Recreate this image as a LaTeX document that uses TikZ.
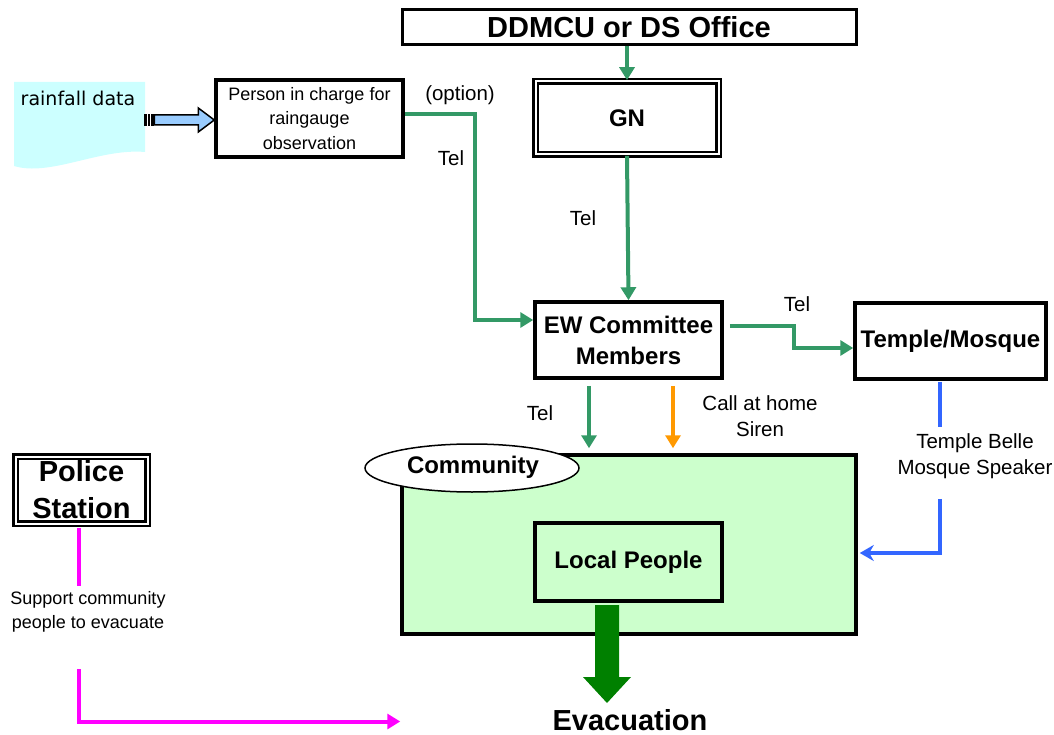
\documentclass[tikz,border=0pt]{standalone}
\usepackage{fontspec}
\setmainfont{Liberation Sans}
\newfontfamily\gothicfont{DejaVu Sans}
\usetikzlibrary{arrows.meta,shapes.geometric,calc}
\definecolor{telgreen}{HTML}{339966}
\definecolor{sirenorange}{HTML}{FF9900}
\definecolor{bellblue}{HTML}{3366FF}
\definecolor{policemagenta}{HTML}{FF00FF}
\definecolor{communityfill}{HTML}{CCFFCC}
\definecolor{evacgreen}{HTML}{008000}
\definecolor{rainfill}{HTML}{CCFFFF}
\definecolor{feedblue}{HTML}{99CCFF}
\begin{document}
\begin{tikzpicture}[x=1pt,y=-1pt,
  boldbox/.style={draw,line width=3.5pt,inner sep=0pt,align=center,
    font=\fontsize{24}{31}\selectfont\bfseries},
  dblbox/.style={draw,line width=2.7pt,double=white,double distance=2pt,
    inner sep=0pt,align=center},
  note/.style={font=\fontsize{20.5}{26}\selectfont,align=center,inner sep=0pt},
  smallnote/.style={font=\fontsize{18}{24}\selectfont,align=center,inner sep=0pt},
  flow/.style={line width=4pt,-{Triangle[width=15pt,length=13pt]}},
  telline/.style={flow,draw=telgreen,color=telgreen},
  sirenline/.style={flow,draw=sirenorange,color=sirenorange},
  bellline/.style={line width=3.5pt,draw=bellblue},
  policeline/.style={line width=4pt,draw=policemagenta}]
\useasboundingbox (0,0) rectangle (1054,735);

% rainfall data sheet with a wavy lower edge
\fill[rainfill] (14,82) -- (145,82) -- (145,152)
  .. controls (100,148) and (50,177) .. (14,166) -- cycle;
\node[font=\gothicfont\fontsize{19}{23}\selectfont,inner sep=0pt] (rain) at (78,98) {rainfall data};

% boxes
\node[boldbox,line width=3pt,minimum width=454pt,minimum height=35pt,
  font=\fontsize{29}{35}\selectfont\bfseries] (ddmcu) at (629,27.5) {DDMCU or DS Office};
\node[dblbox,minimum width=183pt,minimum height=73pt,
  font=\fontsize{24}{30}\selectfont\bfseries] (gn) at (627,118) {GN};
\node[draw,line width=3.5pt,inner sep=0pt,align=center,minimum width=187pt,minimum height=77pt,
  font=\fontsize{18}{24.5}\selectfont] (person) at (309.5,118.5) {Person in charge for\\raingauge\\observation};
\node[boldbox,minimum width=187pt,minimum height=76pt] (ew) at (628.5,340) {EW Committee\\Members};
\node[boldbox,minimum width=191pt,minimum height=76pt] (temple) at (950.5,341) {Temple/Mosque};
\node[draw,line width=3.5pt,fill=communityfill,minimum width=454pt,minimum height=179pt,
  inner sep=0pt] (community) at (629,544.5) {};
\node[boldbox,fill=communityfill,line width=4pt,minimum width=187pt,minimum height=78pt]
  (local) at (628.5,562) {Local People};
\node[ellipse,draw,line width=1.5pt,fill=white,minimum width=214pt,minimum height=48pt,
  inner sep=0pt] (commlabel) at (472,468) {};
\node[font=\fontsize{24}{30}\selectfont\bfseries,inner sep=0pt] (commtext) at (473,467) {Community};
\node[dblbox,minimum width=132pt,minimum height=67pt,
  font=\fontsize{29}{37}\selectfont\bfseries] (police) at (81.5,490) {Police\\Station};
\node[font=\fontsize{29}{35}\selectfont\bfseries,inner sep=0pt] (evac) at (630,720) {Evacuation};

% labels
\node[note] (optlabel) at (460,95) {(option)};
\node[note] (tel1) at (451,158) {Tel};
\node[note] (tel2) at (583,218) {Tel};
\node[note] (tel3) at (797,304) {Tel};
\node[note] (tel4) at (540,413) {Tel};
\node[note] (callnote) at (760,416) {Call at home\\Siren};
\node[note] (bellnote) at (975,456) {Temple Belle\\Mosque Speaker};
\node[smallnote] (supportnote) at (88,612) {Support community\\people to evacuate};

% block arrow feeding the rainfall data to the observer
\begin{scope}[shift={($(person.west)+(0,1.5)$)}]
  \filldraw[fill=feedblue,draw=black,line width=1.5pt]
    (-60,-5) -- (-16,-5) -- (-16,-12) -- (0,0) -- (-16,12) -- (-16,5) -- (-60,5) -- cycle;
  \fill[black] (-70,-6) rectangle (-67,6);
  \fill[black] (-66,-6) rectangle (-64,6);
  \fill[black] (-63,-6) rectangle (-60,6);
\end{scope}

% telephone chain
\draw[telline] (gn.north |- ddmcu.south) -- (gn.north);
\draw[telline] (gn.south) -- (ew.north);
\draw[telline] ($(person.east)+(0,-4.5)$) -- ++(70,0) |- ($(ew.west)+(0,-20)$);
\draw[telline] ($(ew.east)+(6,-14)$) -- ++(64,0) |- ($(temple.west)+(0,7)$);

% committee to community: telephone and siren
\coordinate (telstart) at ($(ew.south)+(-39.5,6)$);
\coordinate (telend) at (telstart |- community.north);
\coordinate (sirenstart) at ($(ew.south)+(44.5,6)$);
\coordinate (sirenend) at (sirenstart |- community.north);
\draw[telline,shorten >=5pt] (telstart) -- (telend);
\draw[sirenline,shorten >=5pt] (sirenstart) -- (sirenend);

% temple bell / mosque speaker
\coordinate (bellstop) at ($(temple.south)+(-10.5,46)$);
\coordinate (bellrestart) at ($(temple.south)+(-10.5,118)$);
\draw[bellline] ($(temple.south)+(-10.5,1)$) -- (bellstop);
\draw[bellline,-{Stealth[width=16pt,length=14pt]},color=bellblue] (bellrestart) |- ($(community.east)+(2,8.5)$);

% police support
\coordinate (policestop) at ($(police.south)+(-2.5,61.5)$);
\coordinate (policerestart) at ($(police.south)+(-2.5,144.5)$);
\draw[policeline] ($(police.south)+(-2.5,3)$) -- (policestop);
\draw[policeline,-{Triangle[width=15pt,length=13pt]},color=policemagenta] (policerestart) |- ($(evac -| community.west)+(0,1.5)$);

% evacuation arrow
\fill[evacgreen] ($(local.south)+(-33.5,2)$) -- ++(24,0) -- ++(0,72) -- ++(12,0)
  -- ++(-24,26) -- ++(-24,-26) -- ++(12,0) -- cycle;
\end{tikzpicture}
\end{document}
